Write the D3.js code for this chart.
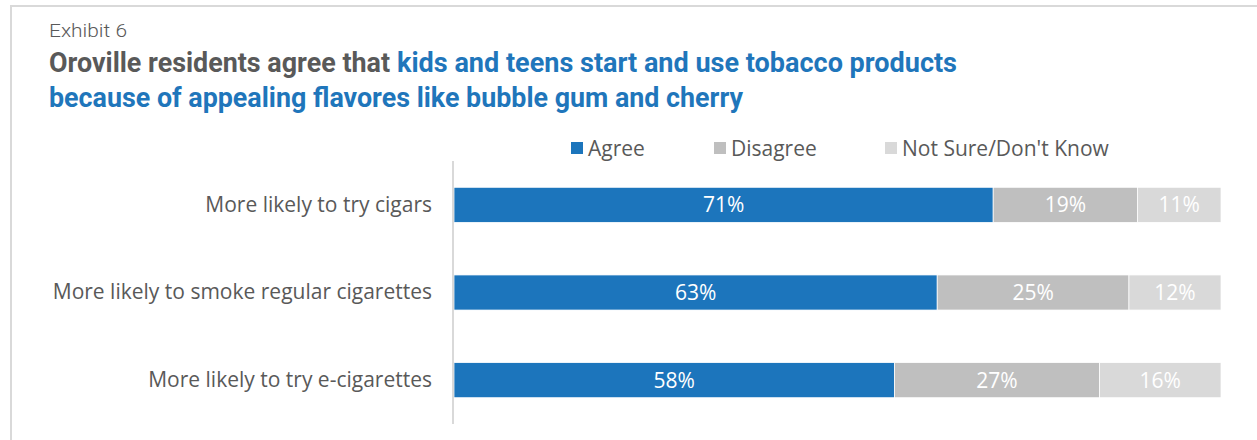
<!DOCTYPE html>
<html>
<head>
<meta charset="utf-8">
<script src="https://cdn.jsdelivr.net/npm/d3@7"></script>
<style>
  body { margin: 0; background: #fff; }
  text { font-family: "Open Sans", "Noto Sans", sans-serif; }
</style>
</head>
<body>
<div class="chart"></div>
<script>
// Data read from the exhibit
var categories = ["More likely to try cigars", "More likely to smoke regular cigarettes", "More likely to try e-cigarettes"];
var seriesNames = ["Agree", "Disagree", "Not Sure/Don't Know"];
var agree = [71, 63, 58];
var disagree = [19, 25, 27];
var notSure = [11, 12, 16];
var colors = ["#1c75bc", "#bfbfbf", "#d9d9d9"];

var svgWidth = 1257;
var svgHeight = 440;

var margin = { top: 161, right: 36, bottom: 16, left: 454 };
var width = svgWidth - margin.left - margin.right;
var height = svgHeight - margin.top - margin.bottom;

var svg = d3.select(".chart")
  .append("svg")
  .attr("width", svgWidth)
  .attr("height", svgHeight);

// Frame lines (top and left)
svg.append("line")
  .attr("x1", 10).attr("x2", svgWidth).attr("y1", 6).attr("y2", 6)
  .attr("stroke", "#d9d9d9").attr("stroke-width", 2);
svg.append("line")
  .attr("x1", 11).attr("x2", 11).attr("y1", 5).attr("y2", svgHeight)
  .attr("stroke", "#d9d9d9").attr("stroke-width", 2);

// Titles
svg.append("text")
  .attr("x", 49).attr("y", 37)
  .attr("font-size", 18)
  .attr("fill", "#595959")
  .attr("textLength", 78).attr("lengthAdjust", "spacingAndGlyphs")
  .style("font-family", "Roboto, sans-serif")
  .style("font-weight", 300)
  .text("Exhibit 6");

function titlePart(x, y, w, color, str) {
  svg.append("text")
    .attr("x", x).attr("y", y)
    .attr("font-size", 27)
    .attr("fill", color)
    .attr("textLength", w).attr("lengthAdjust", "spacingAndGlyphs")
    .style("font-family", "Roboto, sans-serif")
    .style("font-weight", 700)
    .text(str);
}
titlePart(49, 72, 341, "#595959", "Oroville residents agree that");
titlePart(397, 72, 560, "#1f76bb", "kids and teens start and use tobacco products");
titlePart(49, 107, 694, "#1f76bb", "because of appealing flavores like bubble gum and cherry");

// Stack rows, normalised to 100%
var rows = categories.map(function(c, i) {
  var total = agree[i] + disagree[i] + notSure[i];
  return {
    category: c,
    values: [agree[i], disagree[i], notSure[i]],
    total: total
  };
});

var xScale = d3.scaleLinear().domain([0, 1]).range([0, width]);
var yScale = d3.scaleBand().domain(categories).range([0, height]).paddingInner(0.6).paddingOuter(0.3);

var chartGroup = svg.append("g")
  .attr("transform", `translate(${margin.left}, ${margin.top})`);

var rowGroups = chartGroup.selectAll(".row")
  .data(rows)
  .enter()
  .append("g")
  .attr("class", "row")
  .attr("transform", d => `translate(0, ${yScale(d.category)})`);

rowGroups.each(function(d) {
  var g = d3.select(this);
  var start = 0;
  d.values.forEach(function(v, j) {
    var x0 = xScale(start / d.total);
    var x1 = xScale((start + v) / d.total);
    g.append("rect")
      .attr("x", x0)
      .attr("y", 0)
      .attr("width", x1 - x0)
      .attr("height", yScale.bandwidth())
      .attr("fill", colors[j])
      .attr("stroke", "#fff")
      .attr("stroke-width", 0.75);
    g.append("text")
      .attr("x", (x0 + x1) / 2)
      .attr("y", yScale.bandwidth() / 2 + 7.5)
      .attr("text-anchor", "middle")
      .attr("font-size", 21)
      .attr("fill", "#fff")
      .text(v + "%");
    start += v;
  });
});

// Category axis
var leftAxis = d3.axisLeft(yScale).tickSize(0).tickPadding(22);
var yAxis = chartGroup.append("g").call(leftAxis);
yAxis.select(".domain").attr("stroke", "#d9d9d9").attr("stroke-width", 2).attr("d", `M-1,0V${height}`);
yAxis.selectAll(".tick text")
  .attr("font-size", 21)
  .attr("fill", "#595959")
  .style("font-family", "\"Open Sans\", sans-serif");

// Legend
var legendX = [571, 714, 885];
var legend = svg.append("g");
seriesNames.forEach(function(name, i) {
  legend.append("rect")
    .attr("x", legendX[i]).attr("y", 142)
    .attr("width", 12).attr("height", 12)
    .attr("fill", colors[i]);
  legend.append("text")
    .attr("x", legendX[i] + 17).attr("y", 156)
    .attr("font-size", 21)
    .attr("fill", "#595959")
    .text(name);
});
</script>
</body>
</html>
